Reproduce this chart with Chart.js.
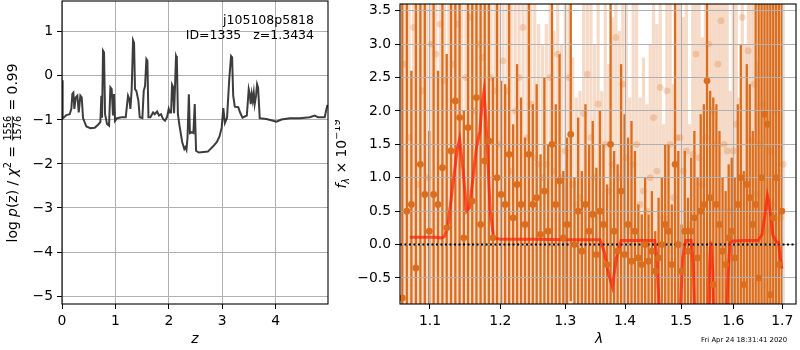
<!DOCTYPE html>
<html>
<head>
<meta charset="utf-8">
<script src="https://cdn.jsdelivr.net/npm/chart.js@4.4.1/dist/chart.umd.min.js"></script>
<style>
  html, body { margin: 0; padding: 0; background: #fff; }
  #wrap { position: relative; width: 800px; height: 350px; }
  #pz { position: absolute; left: 0; top: 0; }
  #spec { position: absolute; left: 335px; top: 0; }
</style>
</head>
<body>
<div id="wrap">
  <canvas id="pz" width="335" height="350"></canvas>
  <canvas id="spec" width="465" height="350"></canvas>
</div>
<script>
// ---- left panel: log p(z) ----
const zGrid = [
  0.000, 0.012, 0.082, 0.144, 0.175, 0.194, 0.213, 0.232, 0.257, 0.288,
  0.313, 0.344, 0.369, 0.394, 0.456, 0.531, 0.612, 0.675, 0.718, 0.737,
  0.750, 0.768, 0.787, 0.806, 0.843, 0.881, 0.906, 0.930, 0.955, 0.974,
  0.993, 1.030, 1.111, 1.193, 1.236, 1.261, 1.280, 1.305, 1.330, 1.349,
  1.367, 1.392, 1.430, 1.455, 1.505, 1.530, 1.555, 1.580, 1.599, 1.618,
  1.655, 1.705, 1.736, 1.780, 1.817, 1.854, 1.892, 1.929, 1.966, 1.998,
  2.017, 2.042, 2.060, 2.079, 2.098, 2.117, 2.135, 2.150, 2.170, 2.200,
  2.250, 2.290, 2.310, 2.330, 2.350, 2.375, 2.395, 2.430, 2.460, 2.485,
  2.510, 2.560, 2.650, 2.730, 2.830, 2.900, 2.950, 2.990, 3.020, 3.050,
  3.090, 3.130, 3.165, 3.185, 3.205, 3.235, 3.300, 3.340, 3.380, 3.460,
  3.496, 3.515, 3.533, 3.552, 3.571, 3.590, 3.608, 3.633, 3.652, 3.671,
  3.702, 3.827, 3.952, 4.014, 4.108, 4.264, 4.451, 4.638, 4.732, 4.795,
  4.919, 4.951, 4.970
];
const logPz = [
  -0.10, -0.97, -0.89, -0.87, -0.75, -0.41, -0.38, -0.75, -0.49, -0.45,
  -0.83, -0.45, -0.49, -0.96, -1.15, -1.19, -1.18, -1.11, -1.05, -0.45,
  -0.95, 0.57, 0.53, -0.87, -1.09, -1.13, -0.26, -0.30, -0.90, -0.41,
  -1.02, -0.96, -0.94, -0.94, -0.45, -0.53, -0.75, -0.30, 0.81, 0.75,
  -0.30, -0.34, -0.56, -0.94, -0.96, -0.34, -0.23, 0.38, 0.34, -0.94,
  -0.94, -0.83, -0.87, -0.81, -0.90, -0.87, -0.98, -1.02, -0.94, -0.75,
  -0.83, -0.83, -0.20, -0.25, -0.85, -0.20, 0.45, 0.40, -0.87, -1.13,
  -1.50, -1.66, -1.62, -1.68, -1.40, -0.42, -1.30, -1.28, -1.30, -0.64,
  -1.70, -1.74, -1.73, -1.72, -1.60, -1.50, -1.37, -1.17, -0.73, -1.07,
  -0.95, -0.10, 0.45, 0.42, -0.45, -0.70, -0.71, -0.85, -0.95, -0.90,
  -0.30, -0.41, -0.64, -0.41, -0.56, -0.38, -0.64, -0.45, -0.19, -0.26,
  -0.96, -0.98, -1.02, -1.04, -0.99, -0.96, -0.96, -0.94, -0.90, -0.94,
  -0.94, -0.75, -0.66
];
const zTicks = [0, 1, 2, 3, 4];
const pzTicks = [-5, -4, -3, -2, -1, 0, 1];

// ---- right panel: spectrum (flux x 1e-19) ----
const darkLam = [
  1.063, 1.069, 1.075, 1.081, 1.087, 1.093, 1.099, 1.105, 1.111, 1.117,
  1.123, 1.129, 1.135, 1.141, 1.147, 1.153, 1.159, 1.165, 1.171, 1.177,
  1.183, 1.189, 1.195, 1.201, 1.207, 1.213, 1.219, 1.225, 1.231, 1.237,
  1.243, 1.249, 1.255, 1.261, 1.267, 1.273, 1.279, 1.285, 1.291, 1.297,
  1.303, 1.309, 1.315, 1.321, 1.327, 1.333, 1.339, 1.345, 1.351, 1.357,
  1.363, 1.369, 1.375, 1.381, 1.387, 1.393, 1.399, 1.405, 1.411, 1.417,
  1.423, 1.429, 1.435, 1.441, 1.447, 1.453, 1.459, 1.465, 1.471, 1.477,
  1.483, 1.489, 1.495, 1.501, 1.507, 1.513, 1.519, 1.525, 1.531, 1.537,
  1.543, 1.549, 1.555, 1.561, 1.567, 1.573, 1.579, 1.585, 1.591, 1.597,
  1.603, 1.609, 1.615, 1.621, 1.627, 1.633, 1.639, 1.645, 1.651, 1.657,
  1.663, 1.669, 1.675, 1.681, 1.687, 1.693, 1.699
];
const darkFlux = [
  -0.8, 0.5, 0.6, -0.35, 1.2, 0.75, 0.2, 0.75, 0.6, 1.15,
  0.25, 1.4, 2.15, 1.9, 0.1, 1.75, 0.65, 2.2, 0.3, 1.25,
  1.55, 0.1, 1.0, 0.75, 0.6, 1.35, 0.4, 0.9, 0.6, 0.3,
  1.35, 0.6, 0.7, 0.15, 0.8, 0.2, 1.5, 0.6, 0.95, 0.1,
  0.3, 1.65, 0.0, 0.5, -0.1, 0.6, 0.2, 0.45, -0.15, 0.5,
  0.3, -0.3, 1.5, 0.2, -0.1, 0.8, -0.15, 0.3, -0.25, 0.2,
  -0.2, -0.3, 0.0, -0.25, -0.1, -0.4, -0.2, 0.0, 0.3, 0.2,
  -0.3, 1.2, 0.0, -0.4, 0.2, -0.1, 0.2, 0.4, -0.2, 0.5,
  0.6, 2.45, 0.7, -0.6, 0.6, 0.3, -0.1, -0.3, 0.1, 0.2,
  -0.2, 0.6, 1.0, -0.6, 0.9, 0.7, 0.3, 0.6, -0.5, 1.0,
  1.95, 1.8, -0.75, 0.4, 1.0, -0.3, 0.5
];
const darkErr = [
  5.0, 4.5, 2.0, 4.5, 3.0, 3.5, 1.5, 3.2, 2.0, 2.5,
  2.6, 2.6, 3.2, 3.0, 1.9, 2.8, 3.2, 3.3, 3.4, 2.9,
  2.8, 2.4, 2.8, 1.7, 1.8, 2.4, 1.4, 1.8, 1.6, 1.3,
  2.3, 1.5, 1.7, 1.2, 1.7, 1.3, 2.4, 1.5, 1.9, 1.0,
  1.3, 2.5, 1.0, 1.4, 1.2, 1.5, 1.3, 1.4, 1.3, 1.5,
  1.2, 1.2, 2.5, 1.2, 1.3, 1.9, 2.1, 1.3, 2.1, 1.2,
  0.8, 0.75, 1.0, 0.7, 0.9, 0.6, 0.9, 1.0, 1.2, 1.3,
  0.9, 2.5, 1.4, 0.7, 1.2, 0.8, 1.1, 1.3, 1.2, 1.45,
  1.5, 3.5, 1.6, 2.8, 1.5, 1.4, 1.1, 1.1, 1.1, 1.1,
  1.2, 1.5, 2.0, 1.7, 1.8, 1.7, 1.4, 3.2, 4.2, 2.8,
  3.0, 3.0, 4.4, 3.3, 2.9, 4.0, 3.2
];
const lightLam = [
  1.066, 1.072, 1.078, 1.084, 1.090, 1.096, 1.102, 1.108, 1.114, 1.120,
  1.126, 1.132, 1.138, 1.144, 1.150, 1.156, 1.162, 1.168, 1.174, 1.180,
  1.186, 1.192, 1.198, 1.204, 1.210, 1.216, 1.222, 1.228, 1.234, 1.240,
  1.246, 1.252, 1.258, 1.264, 1.270, 1.276, 1.282, 1.288, 1.294, 1.300,
  1.306, 1.312, 1.318, 1.324, 1.330, 1.336, 1.342, 1.348, 1.354, 1.360,
  1.366, 1.372, 1.378, 1.384, 1.390, 1.396, 1.402, 1.408, 1.414, 1.420,
  1.426, 1.432, 1.438, 1.444, 1.450, 1.456, 1.462, 1.468, 1.474, 1.480,
  1.486, 1.492, 1.498, 1.504, 1.510, 1.516, 1.522, 1.528, 1.534, 1.540,
  1.546, 1.552, 1.558, 1.564, 1.570, 1.576, 1.582, 1.588, 1.594, 1.600,
  1.606, 1.612, 1.618, 1.624, 1.630, 1.636, 1.642, 1.648, 1.654, 1.660,
  1.666, 1.672, 1.678, 1.684, 1.690, 1.696, 1.702
];
const lightFlux = [
  2.7, 1.6, 3.25, 0.9, 2.3, 1.0, 3.0, 2.85, 3.3, 2.45,
  0.5, 2.7, 3.3, 1.2, 2.5, 3.4, 2.0, 3.0, 2.8, 1.8,
  2.5, 2.3, 1.5, 2.75, 2.3, 1.1, 2.0, 2.5, 3.25, 1.6,
  2.1, 1.3, 1.2, 1.0, 1.2, 2.5, 1.1, 2.85, 1.0, 1.4,
  2.5, 0.9, 0.6, 0.7, 1.96, 2.55, 1.6, 1.0, 2.1, 0.5,
  1.5, 0.8, 1.2, 3.1, 1.0, 2.4, 1.3, 0.2, 1.2, 1.5,
  0.6, 0.8, 0.5, 1.0, 1.9, 1.1, 2.35, 0.4, 2.3, 1.5,
  0.7, 1.6, 1.6, 1.1, 1.4, 0.3, 1.35, 2.85, 1.3, 0.9,
  1.6, 3.0, 2.0, 1.5, 2.7, 3.35, 1.5, 1.4, 0.5, 1.4,
  1.8, 0.6, 3.4, 1.0, 2.9, 1.55, 2.4, 0.75, 1.5, 2.1,
  0.2, 1.4, 0.6, 2.0, 1.0, 0.4, 1.2
];
const lightErr = [
  4.0, 3.0, 4.5, 3.0, 3.5, 3.0, 4.0, 4.0, 4.3, 3.5,
  3.2, 3.8, 4.3, 3.0, 3.5, 4.4, 3.2, 4.0, 3.8, 3.0,
  3.5, 3.5, 3.0, 3.8, 3.4, 3.0, 3.1, 3.5, 4.3, 2.8,
  3.2, 2.3, 2.1, 2.0, 2.1, 3.5, 2.1, 3.8, 2.0, 2.4,
  3.5, 1.9, 1.6, 1.6, 3.0, 3.5, 2.5, 2.0, 3.1, 1.8,
  2.5, 1.9, 2.2, 4.0, 2.2, 3.4, 2.3, 2.0, 3.0, 2.5,
  1.6, 2.0, 1.6, 2.0, 2.9, 2.2, 3.3, 1.4, 3.3, 2.5,
  1.7, 2.6, 2.6, 2.3, 2.6, 1.5, 2.4, 3.8, 2.3, 2.2,
  2.6, 4.0, 3.0, 2.5, 3.7, 4.3, 2.5, 2.4, 1.8, 2.4,
  2.8, 1.6, 4.3, 2.0, 3.9, 2.5, 3.4, 2.0, 2.5, 3.0,
  3.5, 2.8, 3.2, 3.0, 3.0, 3.3, 3.0
];
const modelLam = [
  1.073, 1.090, 1.105, 1.116, 1.120, 1.125, 1.131, 1.138, 1.141, 1.146,
  1.151, 1.155, 1.160, 1.165, 1.170, 1.173, 1.176, 1.180, 1.185, 1.190,
  1.200, 1.250, 1.300, 1.340, 1.357, 1.364, 1.372, 1.378, 1.385, 1.393,
  1.420, 1.452, 1.456, 1.463, 1.496, 1.503, 1.509, 1.519, 1.523, 1.527,
  1.551, 1.554, 1.556, 1.560, 1.563, 1.585, 1.590, 1.594, 1.620, 1.650,
  1.658, 1.664, 1.669, 1.673, 1.680, 1.687, 1.692, 1.696, 1.699
];
const modelFlux = [
  0.11, 0.11, 0.11, 0.10, 0.12, 0.3, 0.85, 1.45, 1.58, 1.1,
  0.5, 0.55, 1.0, 1.45, 1.7, 2.1, 2.3, 1.6, 0.5, 0.1,
  0.08, 0.08, 0.07, 0.07, 0.07, -0.1, -0.45, -0.63, -0.2, 0.06,
  0.06, 0.06, -0.2, -1.5, -1.5, -0.2, 0.06, 0.06, -0.3, -1.5,
  -1.5, -0.3, 0.04, -0.4, -1.5, -1.5, -0.4, 0.05, 0.06, 0.06,
  0.15, 0.45, 0.73, 0.6, 0.15, 0.04, 0.03, -0.2, -0.36
];
const lamTicks = [1.1, 1.2, 1.3, 1.4, 1.5, 1.6, 1.7];
const fluxTicks = [-0.5, 0.0, 0.5, 1.0, 1.5, 2.0, 2.5, 3.0, 3.5];

const FONT = "'DejaVu Sans', sans-serif";
const DARK = 'rgb(218,110,30)';
const LIGHT = 'rgba(220,110,35,0.25)';
const minus = s => s.replace('-', '\u2212');

// no edge padding for labels: the ticks never sit on the plot edges
function noPad(s) {
  s.paddingTop = 0; s.paddingBottom = 0; s.paddingLeft = 0; s.paddingRight = 0;
}

function axisStyle(extra) {
  return Object.assign({
    grid: { color: '#b0b0b0', lineWidth: 1, tickColor: '#000', tickWidth: 1, tickLength: 5, drawTicks: true },
    border: { display: false },
    ticks: { color: '#000', font: { family: FONT, size: 13.9 }, padding: 4, autoSkip: false, maxRotation: 0 }
  }, extra);
}

const frame = {
  id: 'frame',
  afterDraw(chart) {
    const { ctx, chartArea: a } = chart;
    ctx.save();
    ctx.strokeStyle = '#000';
    ctx.lineWidth = 1.1;
    ctx.strokeRect(a.left, a.top, a.right - a.left, a.bottom - a.top);
    ctx.restore();
  }
};

// draw a row of text pieces (mathtext-like), optionally rotated, centred on cx,cy
function drawRuns(ctx, runs, cx, cy, rotate) {
  ctx.save();
  ctx.translate(cx, cy);
  if (rotate) ctx.rotate(-Math.PI / 2);
  ctx.fillStyle = '#000';
  ctx.textBaseline = 'alphabetic';
  ctx.textAlign = 'left';
  let total = 0;
  runs.forEach(r => {
    ctx.font = r.font;
    if (r.num) r.w = Math.max(ctx.measureText(r.num).width, ctx.measureText(r.den).width) + 2;
    else r.w = ctx.measureText(r.text).width;
    total += r.w;
  });
  let x = -total / 2;
  runs.forEach(r => {
    ctx.font = r.font;
    if (r.num) {
      ctx.textAlign = 'center';
      ctx.fillText(r.num, x + r.w / 2, -6);
      ctx.fillText(r.den, x + r.w / 2, 4.5);
      ctx.fillRect(x + 1, -4.6, r.w - 2, 0.8);
      ctx.textAlign = 'left';
    } else {
      ctx.fillText(r.text, x, r.dy || 0);
    }
    x += r.w;
  });
  ctx.restore();
}

const pzText = {
  id: 'pzText',
  afterDraw(chart) {
    const ctx = chart.ctx;
    ctx.save();
    ctx.fillStyle = '#000';
    ctx.font = `12.5px ${FONT}`;
    ctx.textAlign = 'right';
    ctx.fillText('j105108p5818', 314, 24);
    ctx.fillText('ID=1335   z=1.3434', 314, 39);
    ctx.textAlign = 'center';
    ctx.font = `italic 13.9px ${FONT}`;
    const a = chart.chartArea;
    ctx.fillText('z', (a.left + a.right) / 2, 343);
    ctx.restore();
    const reg = `13.9px ${FONT}`, it = `italic 13.9px ${FONT}`, sm = `9.7px ${FONT}`;
    drawRuns(ctx, [
      { text: 'log ', font: reg },
      { text: 'p', font: it },
      { text: '(z) / ', font: reg },
      { text: '\u03c7', font: it },
      { text: '2', font: sm, dy: -6 },
      { text: ' = ', font: reg },
      { num: '1556', den: '1576', font: sm },
      { text: ' = 0.99', font: reg }
    ], 16.5, 153, true);
  }
};

const specText = {
  id: 'specText',
  afterDraw(chart) {
    const ctx = chart.ctx;
    ctx.save();
    ctx.fillStyle = '#000';
    ctx.textAlign = 'center';
    ctx.font = `italic 13.9px ${FONT}`;
    ctx.fillText('\u03bb', 264, 343);
    ctx.font = `6.9px ${FONT}`;
    ctx.textAlign = 'left';
    ctx.fillText('Fri Apr 24 18:31:41 2020', 366, 341.5);
    ctx.restore();
    const reg = `13.9px ${FONT}`, it = `italic 13.9px ${FONT}`, sm = `9.7px ${FONT}`;
    drawRuns(ctx, [
      { text: 'f', font: it },
      { text: '\u03bb', font: `italic 9.7px ${FONT}`, dy: 3 },
      { text: ' \u00d7 10', font: reg },
      { text: '\u221219', font: sm, dy: -6 }
    ], 10.5, 154, true);
  }
};

// error bars go underneath the grid, like the reference
const errorBars = {
  id: 'errorBars',
  beforeDraw(chart) {
    const { ctx, chartArea: a, scales } = chart;
    const xs = scales.x, ys = scales.y;
    ctx.save();
    ctx.beginPath();
    ctx.rect(a.left, a.top, a.right - a.left, a.bottom - a.top);
    ctx.clip();
    const draw = (lam, flux, err, color, w) => {
      ctx.strokeStyle = color;
      ctx.lineWidth = w;
      lam.forEach((l, i) => {
        const px = xs.getPixelForValue(l);
        ctx.beginPath();
        ctx.moveTo(px, ys.getPixelForValue(flux[i] - err[i]));
        ctx.lineTo(px, ys.getPixelForValue(flux[i] + err[i]));
        ctx.stroke();
      });
    };
    draw(lightLam, lightFlux, lightErr, LIGHT, 3.2);
    draw(darkLam, darkFlux, darkErr, DARK, 2.3);
    ctx.restore();
  }
};

new Chart(document.getElementById('pz'), {
  type: 'line',
  data: {
    datasets: [{
      data: zGrid.map((z, i) => ({ x: z, y: logPz[i] })),
      borderColor: 'rgba(40,40,40,0.9)',
      borderWidth: 2,
      pointRadius: 0,
      tension: 0,
      clip: 0
    }]
  },
  options: {
    responsive: false,
    animation: false,
    layout: { padding: { top: 1, right: 7, left: 0, bottom: 0 } },
    plugins: { legend: { display: false }, tooltip: { enabled: false } },
    scales: {
      x: axisStyle({
        type: 'linear', min: 0, max: 4.98,
        afterBuildTicks: s => { s.ticks = zTicks.map(v => ({ value: v })); },
        afterFit: s => { s.height = 46; noPad(s); }
      }),
      y: axisStyle({
        type: 'linear', min: -5.18, max: 1.70,
        afterBuildTicks: s => { s.ticks = pzTicks.map(v => ({ value: v })); },
        afterFit: s => { s.width = 62; noPad(s); }
      })
    }
  },
  plugins: [frame, pzText]
});

const specChart = new Chart(document.getElementById('spec'), {
  type: 'scatter',
  data: {
    datasets: [
      {
        data: lightLam.map((l, i) => ({ x: l, y: lightFlux[i] })),
        backgroundColor: LIGHT, borderWidth: 0, pointRadius: 3.4, clip: 0
      },
      {
        data: darkLam.map((l, i) => ({ x: l, y: darkFlux[i] })),
        backgroundColor: DARK, borderWidth: 0, pointRadius: 3.4, clip: 0
      },
      {
        data: modelLam.map((l, i) => ({ x: l, y: modelFlux[i] })),
        showLine: true, borderColor: 'rgba(255,30,5,0.72)', borderWidth: 3,
        pointRadius: 0, tension: 0, clip: 0
      },
      {
        data: [{ x: 1.06, y: 0 }, { x: 1.729, y: 0 }],
        showLine: true, borderColor: '#000', borderWidth: 2, borderDash: [2, 2.5],
        pointRadius: 0, clip: 0
      }
    ]
  },
  options: {
    responsive: false,
    animation: false,
    layout: { padding: { top: 1, right: 1, left: 0, bottom: 0 } },
    plugins: { legend: { display: false }, tooltip: { enabled: false } },
    scales: {
      x: axisStyle({
        type: 'logarithmic', min: 1.06, max: 1.729,
        afterBuildTicks: s => { s.ticks = lamTicks.map(v => ({ value: v })); },
        afterFit: s => { s.height = 46; noPad(s); }
      }),
      y: axisStyle({
        type: 'linear', min: -0.89, max: 3.6,
        afterBuildTicks: s => { s.ticks = fluxTicks.map(v => ({ value: v })); },
        afterFit: s => { s.width = 65; noPad(s); }
      })
    }
  },
  plugins: [errorBars, frame, specText]
});
specChart.options.scales.x.ticks.callback = v => v.toFixed(1);
specChart.options.scales.y.ticks.callback = v => minus(v.toFixed(1));
specChart.update();

// tick label formats for the left panel (minus sign like the reference)
const pzChart = Chart.getChart('pz');
pzChart.options.scales.x.ticks.callback = v => String(v);
pzChart.options.scales.y.ticks.callback = v => minus(String(v));
pzChart.update();
</script>
</body>
</html>
